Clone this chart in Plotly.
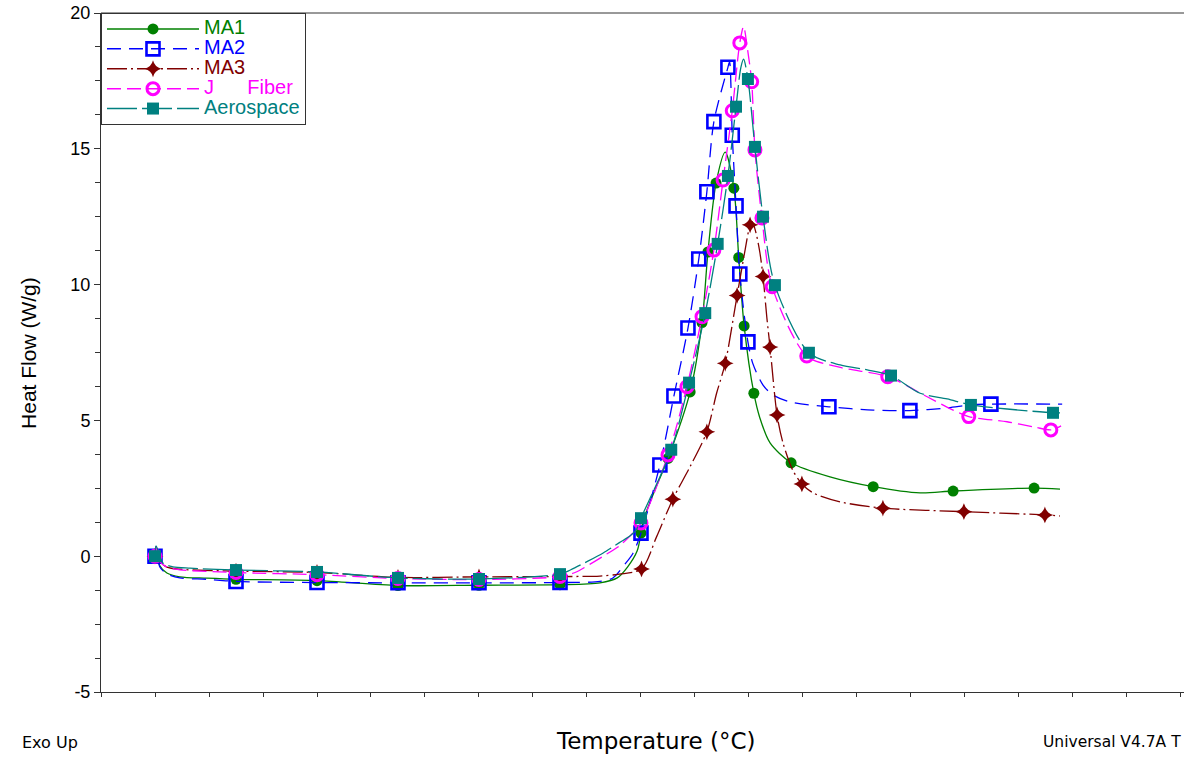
import plotly.graph_objects as go

# ---- DSC curves: temperature (°C) vs heat flow (W/g) ----
ma1_t = [30, 30.2, 30.9, 32.2, 34.6, 39.6, 45, 60, 75, 90, 105, 112.4, 115.6, 117.5, 119.3,
         120, 120.4, 122.6, 125, 129.1, 131.3, 132.4, 133.9, 135.6, 137.2, 138.1, 139.1,
         140.9, 142, 143.9, 147.8, 155, 163, 171.7, 177.8, 192.8, 197.6]
ma1_hf = [0.0, 0.3, -0.35, -0.62, -0.76, -0.81, -0.85, -0.9, -1.08, -1.07, -1.05, -0.98, -0.8,
          -0.4, 0.2, 0.85, 1.3, 2.45, 3.6, 6.05, 8.6, 11.2, 13.74, 14.88, 13.55, 11.0, 8.48,
          6.0, 5.1, 4.17, 3.44, 2.92, 2.56, 2.33, 2.4, 2.51, 2.47]
ma1_mark_t = [30, 45, 60, 75, 90, 105, 120, 125, 129.1, 131.3, 132.4, 133.9, 137.2, 138.1,
              139.1, 140.9, 147.8, 163, 177.8, 192.8]

ma2_t = [30, 30.2, 30.9, 32.2, 34.6, 39.6, 45, 60, 75, 90, 105, 112.4, 114.8, 117, 118.5,
         120, 123.5, 126.1, 128.7, 130.7, 132.2, 133.5, 136.1, 136.4, 136.9, 137.6, 138.3,
         139.8, 140.7, 142.6, 144.4, 147.6, 154.8, 163, 169.8, 176.7, 181.1, 184.8, 198]
ma2_hf = [0.0, 0.35, -0.4, -0.65, -0.8, -0.85, -0.93, -0.97, -0.98, -0.98, -0.97, -0.93, -0.8,
          -0.3, 0.1, 0.85, 3.36, 5.9, 8.4, 10.94, 13.42, 16.0, 18.0, 18.2, 15.5, 12.9, 10.39,
          7.89, 7.1, 6.3, 5.94, 5.68, 5.5, 5.38, 5.36, 5.46, 5.57, 5.6, 5.6]
ma2_mark_t = [30, 45, 60, 75, 90, 105, 120, 123.5, 126.1, 128.7, 130.7, 132.2, 133.5, 136.1,
              136.9, 137.6, 138.3, 139.8, 154.8, 169.8, 184.8]

ma3_t = [30, 30.2, 30.9, 32.2, 34.6, 45, 60, 75, 90, 105, 112.4, 116, 120.1, 122.9, 125.9,
         129.1, 132.2, 134.0, 135.6, 137.8, 139.3, 140.2, 140.6, 141.3, 142.0, 142.6, 143.3,
         143.9, 145.2, 146.3, 148.1, 149.8, 151.9, 156.9, 164.8, 179.8, 194.8, 197.6]
ma3_hf = [0.0, 0.35, -0.2, -0.4, -0.48, -0.55, -0.6, -0.78, -0.76, -0.75, -0.73, -0.66, -0.47,
          0.72, 2.1, 3.3, 4.58, 6.0, 7.1, 9.6, 11.3, 12.2, 12.32, 11.9, 11.2, 10.3, 8.8, 7.7,
          5.2, 4.17, 3.17, 2.66, 2.33, 2.0, 1.77, 1.64, 1.52, 1.48]
ma3_mark_t = [30, 45, 60, 75, 90, 105, 120.1, 125.9, 132.2, 135.6, 137.8, 140.2, 142.6, 143.9,
              145.2, 149.8, 164.8, 179.8, 194.8]

jf_t = [30, 30.2, 30.9, 32.2, 34.6, 45, 60, 75, 90, 105, 107.8, 110.5, 113, 116, 118, 120,
        125, 128.5, 131.3, 133.5, 135.2, 136.9, 138.3, 139.0, 139.7, 140.5, 141.1, 142.4,
        144.3, 150.7, 156.9, 165.7, 173, 177.8, 180.7, 187.8, 193, 195.9, 197.8]
jf_hf = [0.0, 0.35, -0.2, -0.4, -0.5, -0.6, -0.68, -0.82, -0.86, -0.75, -0.6, -0.3, 0.0, 0.38,
         0.75, 1.22, 3.73, 6.24, 8.82, 11.27, 13.85, 16.4, 18.9, 19.5, 18.7, 17.47, 14.96,
         12.45, 9.92, 7.37, 6.95, 6.61, 5.87, 5.38, 5.14, 4.95, 4.75, 4.65, 4.8]
jf_mark_t = [30, 45, 60, 75, 90, 105, 120, 125, 128.5, 131.3, 133.5, 135.2, 136.9, 138.3,
             140.5, 141.1, 142.4, 144.3, 150.7, 165.7, 180.7, 195.9]

aero_t = [30, 30.2, 31.5, 33.3, 36.5, 45, 60, 75, 90, 105, 107, 110, 113, 116, 118, 119.2,
          120, 125.6, 128.9, 131.9, 134.2, 136.1, 137.6, 138.5, 139.0, 139.8, 141.1, 142.6,
          144.8, 151.1, 156.9, 161.9, 166.3, 171.7, 176.7, 181.1, 187.8, 196.3, 197.6]
aero_hf = [0.0, 0.38, -0.26, -0.39, -0.44, -0.51, -0.58, -0.8, -0.84, -0.66, -0.5, -0.2, 0.12,
           0.5, 0.75, 1.0, 1.4, 3.92, 6.39, 8.95, 11.5, 14.0, 16.55, 18.0, 18.3, 17.57, 15.07,
           12.5, 9.98, 7.49, 7.04, 6.86, 6.65, 6.0, 5.79, 5.57, 5.42, 5.28, 5.28]
aero_mark_t = [30, 45, 60, 75, 90, 105, 120, 125.6, 128.9, 131.9, 134.2, 136.1, 137.6, 139.8,
               141.1, 142.6, 144.8, 151.1, 166.3, 181.1, 196.3]

y_ticks = [-5, 0, 5, 10, 15, 20]

FONT = "Arial, 'Liberation Sans', sans-serif"
WIDE = "'DejaVu Sans', Verdana, sans-serif"

series = [
    dict(name="MA1", t=ma1_t, hf=ma1_hf, mt=ma1_mark_t, color="#008000", dash="solid",
         marker=dict(symbol="circle", size=11, color="#008000")),
    dict(name="MA2", t=ma2_t, hf=ma2_hf, mt=ma2_mark_t, color="#0000ff", dash="14px,8px",
         marker=dict(symbol="square-open", size=13, color="#0000ff", line=dict(width=2.6, color="#0000ff"))),
    dict(name="MA3", t=ma3_t, hf=ma3_hf, mt=ma3_mark_t, color="#800000", dash="20px,4px,2px,4px",
         marker=dict(symbol="star-diamond", size=12, color="#800000")),
    dict(name="J\u00a0\u00a0\u00a0\u00a0\u00a0\u00a0Fiber", t=jf_t, hf=jf_hf, mt=jf_mark_t,
         color="#ff00ff", dash="14px,6px",
         marker=dict(symbol="circle-open", size=12, color="#ff00ff", line=dict(width=3, color="#ff00ff"))),
    dict(name="Aerospace", t=aero_t, hf=aero_hf, mt=aero_mark_t, color="#008080", dash="30px,5px",
         marker=dict(symbol="square", size=12, color="#008080")),
]

fig = go.Figure()

for s in series:
    lookup = dict(zip(s["t"], s["hf"]))
    mx = list(s["mt"])
    my = [lookup[t] for t in s["mt"]]
    fig.add_trace(go.Scatter(
        x=s["t"], y=s["hf"], mode="lines", showlegend=False, hoverinfo="skip",
        line=dict(color=s["color"], width=1.3, dash=s["dash"], shape="spline", smoothing=0.8),
    ))
    fig.add_trace(go.Scatter(
        x=mx, y=my, mode="markers", showlegend=False, marker=s["marker"],
    ))
    # legend entry: coloured label at a larger size than the row height font
    fig.add_trace(go.Scatter(
        x=[None], y=[None], mode="lines+markers",
        name=f"<span style='color:{s['color']};font-size:20px'>{s['name']}</span>",
        line=dict(color=s["color"], width=1.5, dash=s["dash"]), marker=s["marker"],
    ))

fig.update_layout(
    width=1184, height=757,
    margin=dict(l=101, r=0, t=13, b=65),
    paper_bgcolor="white", plot_bgcolor="white",
    font=dict(family=FONT, color="black"),
    showlegend=True,
    legend=dict(
        x=0, y=1, xanchor="left", yanchor="top",
        bgcolor="white", bordercolor="#333333", borderwidth=1,
        font=dict(family=FONT, size=13),
        itemwidth=92, tracegroupgap=0,
    ),
    xaxis=dict(
        range=[20, 220.56], showgrid=False, zeroline=False,
        showline=True, linecolor="#333333", linewidth=1,
        ticks="outside", ticklen=4, tickcolor="#333333",
        tick0=30, dtick=10, showticklabels=False,
    ),
    yaxis=dict(
        range=[-5, 20], showgrid=False, zeroline=False,
        showline=True, linecolor="#333333", linewidth=1,
        ticks="outside", ticklen=6, tickcolor="#333333",
        tickvals=y_ticks, ticktext=[str(v) for v in y_ticks],
        tickfont=dict(family=FONT, size=18, color="black"),
        minor=dict(dtick=1.25, tick0=0, ticks="outside", ticklen=5, tickcolor="#333333"),
    ),
    shapes=[dict(type="line", xref="paper", yref="paper", x0=0, x1=1, y0=1, y1=1,
                 line=dict(color="#333333", width=1))],
    annotations=[
        dict(text="Heat Flow (W/g)", xref="paper", yref="paper", x=-0.067, y=0.5,
             xanchor="center", yanchor="middle", textangle=-90, showarrow=False,
             font=dict(family=FONT, size=21, color="black")),
        dict(text="Temperature (°C)", xref="paper", yref="paper", x=0.5125, y=-0.0725,
             xanchor="center", yanchor="middle", showarrow=False,
             font=dict(family=WIDE, size=23, color="black")),
        dict(text="Exo Up", xref="paper", yref="paper", x=-0.075, y=-0.074,
             xanchor="left", yanchor="middle", showarrow=False,
             font=dict(family=WIDE, size=16, color="black")),
        dict(text="Universal V4.7A T", xref="paper", yref="paper", x=0.868, y=-0.074,
             xanchor="left", yanchor="middle", showarrow=False,
             font=dict(family=WIDE, size=15.5, color="black")),
    ],
)

fig.write_html("out.html")
